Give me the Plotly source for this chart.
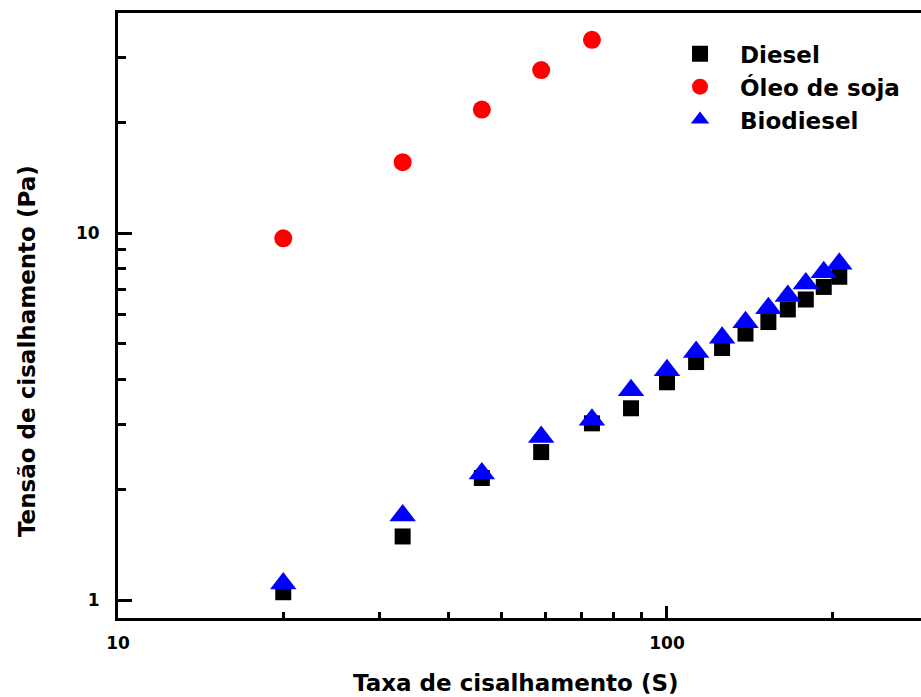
import plotly.graph_objects as go

# Shear rate (1/s) and shear stress (Pa) for each fluid
taxa = [20, 33, 46, 59, 73, 86, 100, 113, 126, 139, 153, 166, 179, 193, 206]
diesel = [1.05, 1.49, 2.15, 2.53, 3.03, 3.33, 3.92, 4.45, 4.86, 5.32, 5.72, 6.19, 6.59, 7.13, 7.60]
biodiesel = [1.11, 1.70, 2.21, 2.78, 3.10, 3.73, 4.23, 4.74, 5.18, 5.71, 6.24, 6.74, 7.29, 7.82, 8.24]
taxa_soja = [20, 33, 46, 59, 73]
oleo_soja = [9.67, 15.6, 21.7, 27.8, 33.6]

x_major = [10, 100]
x_minor = [20, 30, 40, 50, 60, 70, 80, 90, 200, 300]
y_major = [1, 10]
y_minor = [2, 3, 4, 5, 6, 7, 8, 9, 20, 30]

FONT = "DejaVu Sans"

fig = go.Figure()
fig.add_trace(go.Scatter(
    x=taxa, y=diesel, mode="markers", name="Diesel", legendgroup="a",
    marker=dict(symbol="square", size=16, color="#000000", line=dict(width=0)),
))
fig.add_trace(go.Scatter(
    x=taxa_soja, y=oleo_soja, mode="markers", name="Óleo de soja", legendgroup="b",
    marker=dict(symbol="circle", size=18, color="#ff0000", line=dict(width=0)),
))
fig.add_trace(go.Scatter(
    x=taxa, y=biodiesel, mode="markers", name="Biodiesel", legendgroup="c",
    marker=dict(symbol="triangle-up", size=23, color="#0000ff", line=dict(width=0)),
))

axis_common = dict(
    type="log",
    showgrid=False,
    zeroline=False,
    showline=True,
    linecolor="#000000",
    linewidth=3,
    ticks="inside",
    tickcolor="#000000",
    tickwidth=3,
    tickmode="array",
    tickfont=dict(family=FONT, size=17, color="#000000", weight="bold"),
)

fig.update_xaxes(
    **axis_common,
    range=[1, 2.4627],
    mirror=True,
    tickvals=x_major,
    ticktext=[str(v) for v in x_major],
    ticklen=12,
    ticklabelstandoff=8,
    minor=dict(tickmode="array", tickvals=x_minor, ticks="inside",
               ticklen=6, tickwidth=3, tickcolor="#000000", showgrid=False),
)
fig.update_yaxes(
    **axis_common,
    range=[-0.049, 1.5995],
    tickvals=y_major,
    ticktext=[str(v) for v in y_major],
    ticklen=14,
    ticklabelstandoff=12,
    minor=dict(tickmode="array", tickvals=y_minor, ticks="inside",
               ticklen=8, tickwidth=3, tickcolor="#000000", showgrid=False),
)

fig.add_annotation(
    text="Taxa de cisalhamento (S)", xref="paper", yref="paper",
    x=0.4956, y=-0.1074, xanchor="center", yanchor="middle", showarrow=False,
    font=dict(family=FONT, size=23, color="#000000", weight="bold"),
)
fig.add_annotation(
    text="Tensão de cisalhamento (Pa)", xref="paper", yref="paper",
    x=-0.1133, y=0.4413, xanchor="center", yanchor="middle", showarrow=False,
    textangle=-90,
    font=dict(family=FONT, size=23, color="#000000", weight="bold"),
)

fig.update_layout(
    width=921,
    height=697,
    margin=dict(l=118, r=0, t=13, b=79),
    paper_bgcolor="#ffffff",
    plot_bgcolor="#ffffff",
    showlegend=True,
    legend=dict(
        x=0.675, y=0.968, xanchor="left", yanchor="top",
        bgcolor="rgba(0,0,0,0)", borderwidth=0,
        tracegroupgap=0, itemwidth=70,
        font=dict(family=FONT, size=23, color="#000000", weight="bold"),
    ),
)

fig.write_html("out.html")
